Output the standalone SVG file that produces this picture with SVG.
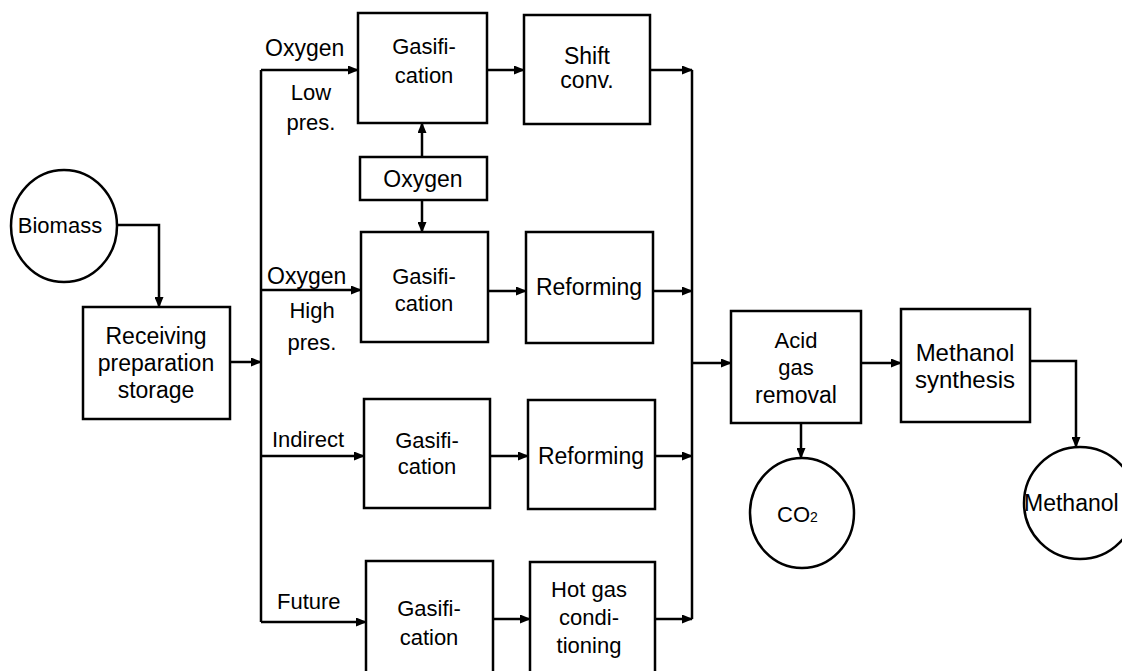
<svg xmlns="http://www.w3.org/2000/svg" width="1122" height="671" viewBox="0 0 1122 671">
<defs>
<marker id="ah" markerUnits="userSpaceOnUse" markerWidth="11" markerHeight="9" refX="10" refY="4.5" orient="auto">
<path d="M0,0 L11,4.5 L0,9 z" fill="#000"/>
</marker>
<style>
.box{fill:#fff;stroke:#000;stroke-width:2.5}
.t{font-family:"Liberation Sans",Arial,sans-serif;font-size:22px;fill:#000}
.l{font-size:23px}
.xl{font-size:24px}
.c{text-anchor:middle}
.ln{fill:none;stroke:#000;stroke-width:2.5}
.ar{fill:none;stroke:#000;stroke-width:2.5;marker-end:url(#ah)}
</style>
</defs>
<rect width="1122" height="671" fill="#fff"/>

<g id="connectors">
<path class="ar" d="M116,225 H159 V307"/>
<path class="ar" d="M230,362 H261"/>
<path class="ln" d="M261,70 V622"/>
<path class="ar" d="M261,70 H358"/>
<path class="ar" d="M261,290 H361"/>
<path class="ar" d="M261,456 H364"/>
<path class="ar" d="M261,622 H366"/>
<path class="ar" d="M487,70 H524"/>
<path class="ar" d="M422,157 V123"/>
<path class="ar" d="M422,200 V232"/>
<path class="ar" d="M488,291 H526"/>
<path class="ar" d="M490,456 H528"/>
<path class="ar" d="M493,619 H530"/>
<path class="ar" d="M650,70 H692"/>
<path class="ar" d="M653,291 H692"/>
<path class="ar" d="M655,456 H692"/>
<path class="ar" d="M655,619 H692"/>
<path class="ln" d="M692,70 V619"/>
<path class="ar" d="M692,363 H731"/>
<path class="ar" d="M861,363 H901"/>
<path class="ar" d="M801,423 V458"/>
<path class="ar" d="M1030,361 H1076 V447"/>
</g>

<g id="labels">
<text class="t l" x="265" y="56">Oxygen</text>
<text class="t c" x="311" y="100">Low</text>
<text class="t c" x="311" y="130">pres.</text>
<text class="t l" x="267" y="284">Oxygen</text>
<text class="t c" x="312" y="318">High</text>
<text class="t c" x="312" y="350">pres.</text>
<text class="t" x="272" y="447">Indirect</text>
<text class="t" x="277" y="609">Future</text>
</g>

<g id="biomass">
<ellipse cx="64" cy="226" rx="53" ry="56" fill="#fff" stroke="#000" stroke-width="2.5"/>
<text class="t c" x="60" y="233">Biomass</text>
</g>

<g id="receiving">
<rect class="box" x="83" y="307" width="147" height="112"/>
<text class="t l c" x="156" y="344">Receiving</text>
<text class="t l c" x="156" y="371">preparation</text>
<text class="t l c" x="156" y="398">storage</text>
</g>

<g id="gasification1">
<rect class="box" x="358" y="13" width="129" height="110"/>
<text class="t c" x="424" y="54">Gasifi-</text>
<text class="t c" x="424" y="83">cation</text>
</g>

<g id="shift">
<rect class="box" x="524" y="15" width="126" height="109"/>
<text class="t l c" x="587" y="64">Shift</text>
<text class="t l c" x="587" y="88">conv.</text>
</g>

<g id="oxygen">
<rect class="box" x="360" y="157" width="127" height="43"/>
<text class="t l c" x="423" y="187">Oxygen</text>
</g>

<g id="gasification2">
<rect class="box" x="361" y="232" width="127" height="110"/>
<text class="t c" x="424" y="284">Gasifi-</text>
<text class="t c" x="424" y="311">cation</text>
</g>

<g id="reforming1">
<rect class="box" x="526" y="232" width="127" height="111"/>
<text class="t l c" x="589" y="295">Reforming</text>
</g>

<g id="gasification3">
<rect class="box" x="364" y="399" width="126" height="109"/>
<text class="t c" x="427" y="448">Gasifi-</text>
<text class="t c" x="427" y="474">cation</text>
</g>

<g id="reforming2">
<rect class="box" x="528" y="400" width="127" height="109"/>
<text class="t l c" x="591" y="464">Reforming</text>
</g>

<g id="gasification4">
<rect class="box" x="366" y="561" width="127" height="130"/>
<text class="t c" x="429" y="616">Gasifi-</text>
<text class="t c" x="429" y="645">cation</text>
</g>

<g id="hotgas">
<rect class="box" x="530" y="562" width="125" height="130"/>
<text class="t c" x="589" y="597">Hot gas</text>
<text class="t c" x="589" y="625">condi-</text>
<text class="t c" x="589" y="653">tioning</text>
</g>

<g id="acid">
<rect class="box" x="731" y="311" width="130" height="112"/>
<text class="t c" x="796" y="348">Acid</text>
<text class="t c" x="796" y="375">gas</text>
<text class="t l c" x="796" y="403">removal</text>
</g>

<g id="co2">
<ellipse cx="802" cy="513" rx="52" ry="55" fill="#fff" stroke="#000" stroke-width="2.5"/>
<text class="t" x="777" y="522">CO<tspan font-size="14">2</tspan></text>
</g>

<g id="methanol-synthesis">
<rect class="box" x="901" y="309" width="129" height="113"/>
<text class="t xl c" x="965" y="361">Methanol</text>
<text class="t xl c" x="965" y="388">synthesis</text>
</g>

<g id="methanol">
<ellipse cx="1080" cy="503" rx="56" ry="56" fill="#fff" stroke="#000" stroke-width="2.5"/>
<text class="t l" x="1024" y="511">Methanol</text>
</g>
</svg>
